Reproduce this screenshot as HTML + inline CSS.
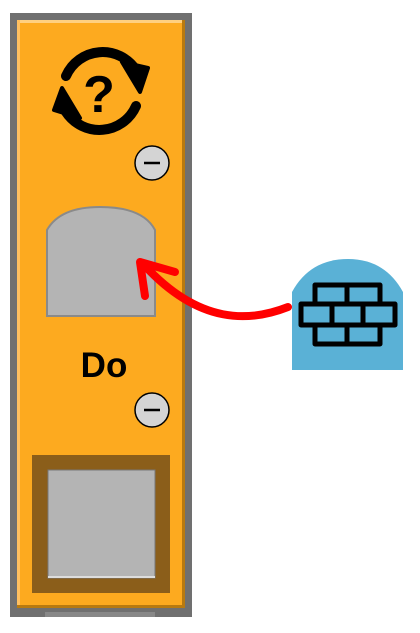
<!DOCTYPE html>
<html><head><style>body{margin:0;background:#fff;width:420px;height:628px;overflow:hidden}</style></head>
<body>
<svg width="420" height="628" xmlns="http://www.w3.org/2000/svg">
<rect x="10" y="13" width="182" height="604" fill="#707070"/>
<rect x="17" y="20" width="168" height="588" fill="#fdaa1f"/>
<rect x="17" y="20" width="168" height="3" fill="#ffd080"/>
<rect x="17" y="20" width="3" height="588" fill="#ffc060"/>
<rect x="182" y="20" width="3" height="588" fill="#b87a10"/>
<rect x="17" y="605" width="168" height="3" fill="#b87a10"/>
<rect x="45" y="612" width="110" height="5" fill="#888"/>
<!-- icon -->
<g fill="none" stroke="#000" stroke-width="10" stroke-linecap="round">
<path d="M66 76 A40 40 0 0 1 136 70"/>
<path d="M136 106 A40 40 0 0 1 66 112"/>
</g>
<path d="M122 62 L148 68 L140 92 Z" fill="#000" stroke="#000" stroke-width="4" stroke-linejoin="round"/>
<path d="M80 118 L54 110 L62 88 Z" fill="#000" stroke="#000" stroke-width="4" stroke-linejoin="round"/>
<text x="99" y="112" font-family="Liberation Sans,sans-serif" font-weight="bold" font-size="52" text-anchor="middle" fill="#000">?</text>
<!-- minus circles -->
<g stroke="#000" stroke-width="1.5">
<circle cx="152" cy="163" r="17" fill="#d4d4d4"/>
<line x1="144" y1="163" x2="160" y2="163" stroke-width="2.5"/>
<circle cx="152" cy="410" r="17" fill="#d4d4d4"/>
<line x1="144" y1="410" x2="160" y2="410" stroke-width="2.5"/>
</g>
<!-- slot -->
<path d="M47 316 L47 230 Q60 207 100 207 Q143 207 155 230 L155 316 Z" fill="#b4b4b4" stroke="#8a8a8a" stroke-width="2"/>
<text x="104" y="377" font-family="Liberation Sans,sans-serif" font-weight="bold" font-size="35" text-anchor="middle" fill="#000">Do</text>
<!-- brown square -->
<rect x="32" y="455" width="138" height="138" fill="#8b5e1a"/>
<rect x="48" y="470" width="107" height="108" fill="#b4b4b4" stroke="#777" stroke-width="1"/>
<rect x="48" y="576" width="107" height="2" fill="#ddd"/>
<!-- blue -->
<path d="M292 370 L292 292 Q310 259 348 259 Q385 259 403 292 L403 370 Z" fill="#5ab1d6"/>
<g fill="#5ab1d6" stroke="#000" stroke-width="5" stroke-linejoin="round">
<rect x="315" y="285" width="65" height="40"/>
<rect x="301" y="304" width="94" height="21"/>
<rect x="315" y="325" width="65" height="19"/>
<line x1="347" y1="285" x2="347" y2="304"/>
<line x1="332" y1="304" x2="332" y2="325"/>
<line x1="363" y1="304" x2="363" y2="325"/>
<line x1="347" y1="325" x2="347" y2="344"/>
</g>
<!-- arrow -->
<path d="M288 307 C250 322 200 325 145 266" fill="none" stroke="#f00" stroke-width="8" stroke-linecap="round"/>
<path d="M145 296 L140 262 L175 272" fill="none" stroke="#f00" stroke-width="8" stroke-linecap="round" stroke-linejoin="round"/>
</svg>
</body></html>
